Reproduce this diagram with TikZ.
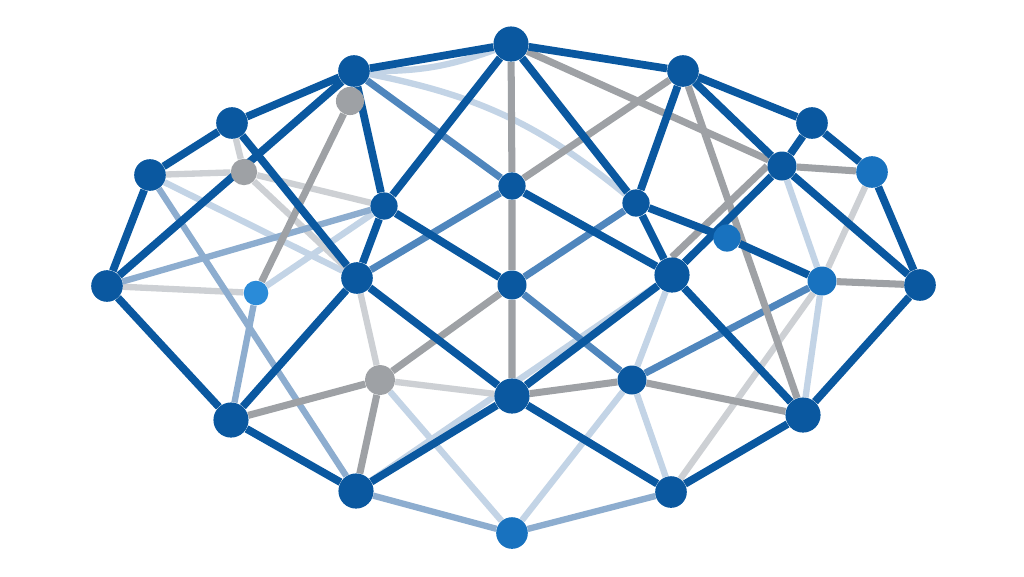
\documentclass[tikz,border=0pt]{standalone}
\usetikzlibrary{backgrounds}
\definecolor{deepblue}{HTML}{0A58A0}
\definecolor{steelblue}{HTML}{4F86BD}
\definecolor{softblue}{HTML}{8DADCF}
\definecolor{paleblue}{HTML}{C3D4E6}
\definecolor{midgray}{HTML}{9EA1A5}
\definecolor{palegray}{HTML}{CDD0D4}
\definecolor{skyblue}{HTML}{2A8BD8}
\definecolor{brightblue}{HTML}{1872BF}

\begin{document}
\begin{tikzpicture}[x=0.02cm, y=-0.02cm,
  hub/.style = {circle, fill=deepblue, inner sep=0pt, minimum size=18pt},
  bighub/.style = {hub, minimum size=20pt},
  smallhub/.style = {hub, minimum size=15.5pt},
  greyhub/.style = {hub, fill=midgray, minimum size=16pt},
  bluelink/.style = {draw=deepblue, line width=4.4pt},
  steellink/.style = {draw=steelblue, line width=4pt},
  softlink/.style = {draw=softblue, line width=3.6pt},
  palelink/.style = {draw=paleblue, line width=3.6pt},
  greylink/.style = {draw=midgray, line width=4pt},
  palegreylink/.style = {draw=palegray, line width=3.6pt}]
  \useasboundingbox (0,0) rectangle (1024,576);

  % outer ring
  \node[bighub] (A) at (511,44) {};
  \node[hub] (B) at (354,71) {};
  \node[hub] (C) at (683,71) {};
  \node[hub] (D) at (232,123) {};
  \node[hub] (E) at (812,123) {};
  \node[hub] (F) at (150,175) {};
  \node[hub, fill=brightblue] (G) at (872,172) {};
  \node[hub] (M) at (107,286) {};
  \node[hub] (N) at (920,285) {};
  \node[bighub] (V) at (231,420) {};
  \node[bighub] (W) at (803,415) {};
  \node[bighub] (X) at (356,491) {};
  \node[hub] (Y) at (671,492) {};
  \node[hub, fill=brightblue] (Z) at (512,533) {};

  % inner nodes
  \node[hub, minimum size=16.5pt] (H) at (782,166) {};
  \node[smallhub] (I) at (384,206) {};
  \node[smallhub] (J) at (512,186) {};
  \node[smallhub] (K) at (636,203) {};
  \node[smallhub, fill=brightblue] (L) at (727,238) {};
  \node[hub] (O) at (357,278) {};
  \node[hub, minimum size=16.5pt] (P) at (512,285) {};
  \node[bighub] (Q) at (672,275) {};
  \node[smallhub, fill=skyblue, minimum size=14pt] (R) at (256,293) {};
  \node[hub, fill=brightblue, minimum size=16.5pt] (S) at (822,281) {};
  \node[hub, minimum size=16.5pt] (T) at (632,380) {};
  \node[bighub] (U) at (512,396) {};

  % grey nodes
  \node[greyhub] (g1) at (350,101) {};
  \node[greyhub, minimum size=15pt] (g2) at (244,172) {};
  \node[greyhub, minimum size=17pt] (g3) at (380,380) {};

  \begin{scope}[on background layer]
    \fill[white] (0,0) rectangle (1024,576);
    % faint links
    \draw[palelink] (F) -- (O);
    \draw[palelink] (R) -- (I);
    \draw[palelink] (B) to[bend left=14] (K);
    \draw[palelink] (A) to[bend left=10] (B);
    \draw[palelink] (g3) -- (Z);
    \draw[palelink] (T) -- (Z);
    \draw[palelink] (T) -- (Q);
    \draw[palelink] (T) -- (Y);
    \draw[palelink] (S) -- (W);
    \draw[palelink] (H) -- (S);
    \draw[palelink] (X) -- (Q);
    \draw[palegreylink] (F) -- (g2);
    \draw[palegreylink] (D) -- (g2);
    \draw[palegreylink] (g2) -- (I);
    \draw[palegreylink] (g2) -- (O);
    \draw[palegreylink] (O) -- (g3);
    \draw[palegreylink] (g3) -- (U);
    \draw[palegreylink] (M) -- (R);
    \draw[palegreylink] (G) -- (S);
    \draw[palegreylink] (S) -- (Y);
    % soft and steel links
    \draw[softlink] (X) -- (Z);
    \draw[softlink] (Y) -- (Z);
    \draw[softlink] (M) -- (I);
    \draw[softlink] (F) -- (X);
    \draw[softlink] (R) -- (V);
    \draw[steellink] (B) -- (J);
    \draw[steellink] (J) -- (O);
    \draw[steellink] (P) -- (K);
    \draw[steellink] (P) -- (T);
    \draw[steellink] (S) -- (T);
    % grey links
    \draw[greylink] (A) -- (J) -- (P) -- (U);
    \draw[greylink] (J) -- (C);
    \draw[greylink] (A) -- (H);
    \draw[greylink] (H.west) -- (Q.north);
    \draw[greylink] (C) -- (W);
    \draw[greylink] (H) -- (G);
    \draw[greylink] (S) -- (N);
    \draw[greylink] (U) -- (T) -- (W);
    \draw[greylink] (P) -- (g3);
    \draw[greylink] (V) -- (g3) -- (X);
    \draw[greylink] (g1) -- (R);
    % main blue links
    \draw[bluelink] (M) -- (F) -- (D) -- (B) -- (A) -- (C) -- (E) -- (G) -- (N);
    \draw[bluelink] (M) -- (V) -- (X) -- (U) -- (Y) -- (W) -- (N);
    \draw[bluelink] (M) -- (B);
    \draw[bluelink] (D) -- (O) -- (V);
    \draw[bluelink] (B) -- (I) -- (A) -- (K) -- (C) -- (H) -- (N);
    \draw[bluelink] (I) -- (O) -- (U) -- (Q);
    \draw[bluelink] (I) -- (P);
    \draw[bluelink] (E) -- (H) -- (Q) -- (W);
    \draw[bluelink] (K) -- (L) -- (S);
    \draw[bluelink] (K) -- (Q);
    \draw[bluelink] (J) -- (Q);
  \end{scope}
\end{tikzpicture}
\end{document}
